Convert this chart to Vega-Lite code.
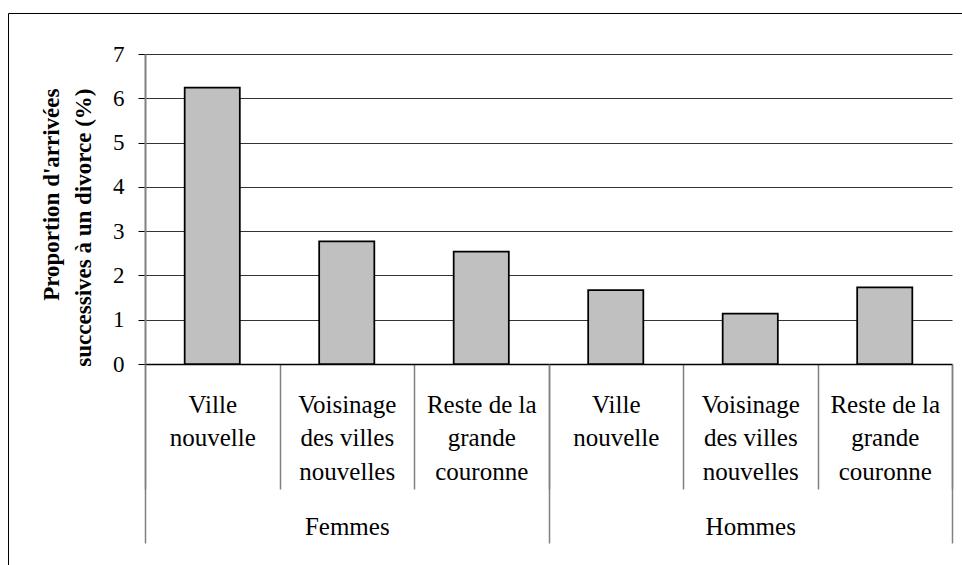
{
  "$schema": "https://vega.github.io/schema/vega-lite/v6.json",
  "autosize": {"type": "none"},
  "width": 807,
  "height": 310,
  "padding": {"left": 145, "top": 54, "right": 10, "bottom": 201},
  "background": "white",
  "config": {"view": {"stroke": null}, "font": "Liberation Serif, Times New Roman, serif"},
  "data": {
    "values": [
      {"sexe": "Femmes", "zone": "Ville nouvelle", "cle": "Femmes – Ville nouvelle", "valeur": 6.24},
      {"sexe": "Femmes", "zone": "Voisinage des villes nouvelles", "cle": "Femmes – Voisinage des villes nouvelles", "valeur": 2.77},
      {"sexe": "Femmes", "zone": "Reste de la grande couronne", "cle": "Femmes – Reste de la grande couronne", "valeur": 2.54},
      {"sexe": "Hommes", "zone": "Ville nouvelle", "cle": "Hommes – Ville nouvelle", "valeur": 1.67},
      {"sexe": "Hommes", "zone": "Voisinage des villes nouvelles", "cle": "Hommes – Voisinage des villes nouvelles", "valeur": 1.14},
      {"sexe": "Hommes", "zone": "Reste de la grande couronne", "cle": "Hommes – Reste de la grande couronne", "valeur": 1.73}
    ]
  },
  "layer": [
    {
      "mark": {"type": "bar", "fill": "#c0c0c0", "stroke": "black", "strokeWidth": 1.75, "width": {"band": 0.41}},
      "encoding": {
        "x": {
          "field": "cle", "type": "nominal", "sort": null,
          "scale": {"paddingInner": 0, "paddingOuter": 0},
          "axis": {
            "orient": "bottom", "title": null,
            "domainColor": "black", "domainWidth": 1.5,
            "tickBand": "extent", "tickSize": 125, "tickColor": "#808080", "tickWidth": 1.5,
            "labelAngle": 0, "labelFont": "Liberation Serif, Times New Roman, serif", "labelFontSize": 25, "labelColor": "black",
            "labelPadding": -97, "labelLineHeight": 33.5, "labelBaseline": "top", "labelAlign": "center",
            "labelExpr": "!isValid(datum.value) ? '' : indexof(datum.value,'Ville nouvelle')>=0 ? ['Ville','nouvelle'] : indexof(datum.value,'Voisinage')>=0 ? ['Voisinage','des villes','nouvelles'] : ['Reste de la','grande','couronne']"
          }
        },
        "y": {
          "field": "valeur", "type": "quantitative",
          "scale": {"domain": [0, 7], "nice": false},
          "axis": {
            "orient": "left",
            "values": [0, 1, 2, 3, 4, 5, 6, 7],
            "grid": true, "gridColor": "#333333", "gridWidth": 1,
            "domainColor": "#808080", "domainWidth": 2,
            "tickColor": "black", "tickSize": 7, "tickWidth": 1,
            "labelFont": "Liberation Serif, Times New Roman, serif", "labelFontSize": 23, "labelColor": "black", "labelPadding": 14,
            "title": ["Proportion d'arrivées", "successives à un divorce (%)"],
            "titleFont": "Liberation Serif, Times New Roman, serif", "titleFontSize": 23, "titleFontWeight": "bold", "titleColor": "black",
            "titleLineHeight": 32, "titleAngle": -90, "titleAlign": "right", "titleBaseline": "middle",
            "titleX": -94, "titleY": 34
          }
        }
      }
    },
    {
      "mark": {"type": "bar", "opacity": 0},
      "encoding": {
        "x": {
          "field": "sexe", "type": "nominal", "sort": null,
          "scale": {"paddingInner": 0, "paddingOuter": 0},
          "axis": {
            "orient": "bottom", "title": null, "domain": false, "grid": false,
            "tickBand": "extent", "tickSize": 179, "tickColor": "#808080", "tickWidth": 1.5,
            "labelAngle": 0, "labelFont": "Liberation Serif, Times New Roman, serif", "labelFontSize": 25, "labelColor": "black",
            "labelPadding": -29, "labelBaseline": "top", "labelAlign": "center"
          }
        },
        "y": {"field": "valeur", "type": "quantitative"},
        "color": {
          "field": "sexe", "type": "nominal",
          "scale": {"range": ["transparent", "transparent"]},
          "legend": {
            "orient": "none", "legendX": -137, "legendY": -41,
            "padding": 500, "strokeColor": "black",
            "title": null, "symbolOpacity": 0, "symbolSize": 1, "labelOpacity": 0, "labelFontSize": 1
          }
        }
      }
    }
  ],
  "resolve": {"scale": {"x": "independent"}, "axis": {"x": "independent"}}
}
